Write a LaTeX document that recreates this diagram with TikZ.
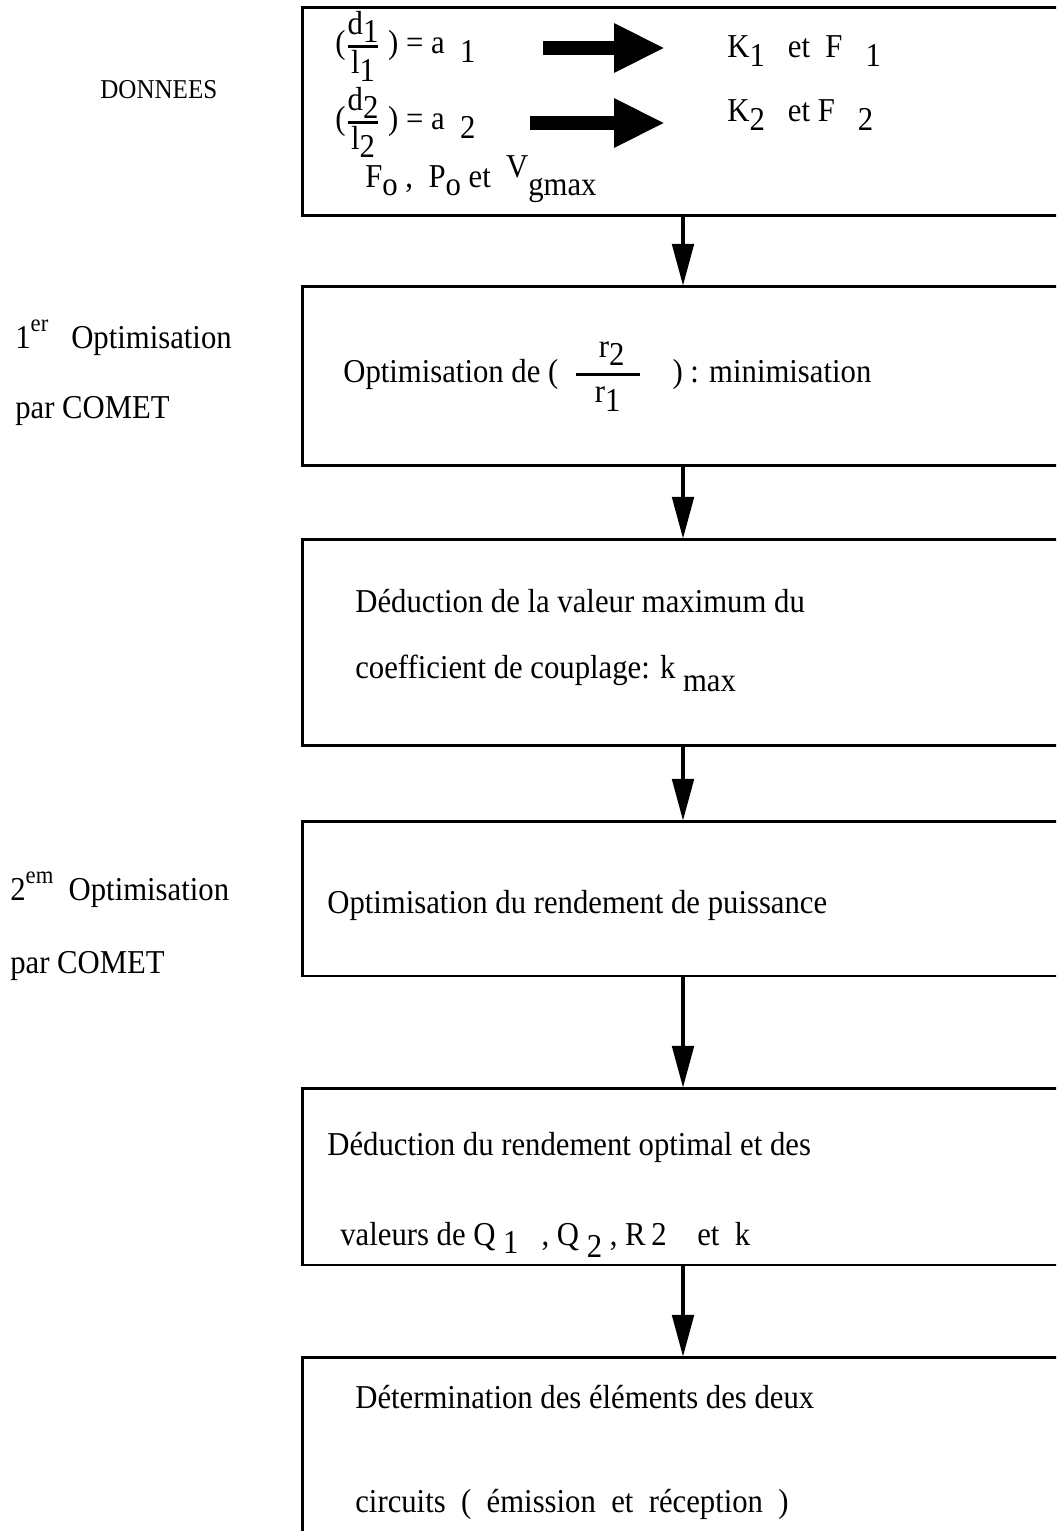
\documentclass[tikz,border=0pt]{standalone}
\usepackage{amsmath}
\usepackage{fontspec}
\setmainfont{Liberation Serif}[FakeStretch=0.92]
\usetikzlibrary{arrows.meta}

\newcommand{\dn}[1]{\raisebox{-0.55ex}{#1}}
\newcommand{\up}[1]{\raisebox{1.1ex}{\fontsize{14}{16}\selectfont #1}}
\newcommand{\fr}[2]{$\genfrac{}{}{1.4pt}{1}{\mbox{#1}}{\mbox{#2}}$}
\newcommand{\bigfr}[2]{$\genfrac{}{}{1.4pt}{0}{\mbox{#1}}{\mbox{#2}}$}

\begin{document}
\begin{tikzpicture}[x=0.02cm,y=-0.02cm,
    box/.style={draw,line width=1.7pt,minimum width=15.24cm,inner sep=0pt,outer sep=0pt},
    txt/.style={anchor=base west,inner sep=0pt,font=\fontsize{19}{23}\selectfont},
    flow/.style={-{Triangle[length=24pt,width=12pt]},line width=2.8pt},
    fat/.style={-{Triangle[length=29pt,width=26pt]},line width=8.5pt}]
    \useasboundingbox (0,0) rectangle (1056,1531);
    \clip (0,0) rectangle (1056,1531);

    \node[box,minimum height=4.18cm] (b1) at (683,111.5) {};
    \node[box,minimum height=3.6cm] (b2) at (683,376) {};
    \node[box,minimum height=4.14cm] (b3) at (683,642.5) {};
    \node[box,minimum height=3.1cm] (b4) at (683,898.5) {};
    \node[box,minimum height=3.54cm] (b5) at (683,1176.5) {};
    \node[box,minimum height=3.76cm] (b6) at (683,1451) {};

    \foreach \a/\b in {b1/b2,b2/b3,b3/b4,b4/b5,b5/b6}
        \draw[flow] (\a) -- (\b);

    \node[txt,font=\fontsize{15.5}{18}\selectfont] (don) at (100,99) {DONNEES};
    \node[txt] (eq1) at (335,54) {(\fr{d\dn{1}}{l\dn{1}}\ ) = a\ \ \dn{1}};
    \node[txt] (kf1) at (727,58) {K\dn{1}\ \ \ et\ \ F\ \ \ \dn{1}};
    \node[txt] (eq2) at (335,130) {(\fr{d\dn{2}}{l\dn{2}}\ ) = a\ \ \dn{2}};
    \node[txt] (kf2) at (727,122) {K\dn{2}\ \ \ et\ F\ \ \ \dn{2}};
    \node[txt] (data) at (365,187) {F\dn{o}\ ,\ \ P\dn{o} et\ \ \raisebox{0.6ex}{V}\dn{gmax}};
    \coordinate (a1s) at (543,48);
    \coordinate (a1e) at (665,48);
    \coordinate (a2s) at (530,123);
    \coordinate (a2e) at (665,123);
    \draw[fat] (a1s) -- (a1e);
    \draw[fat] (a2s) -- (a2e);

    \node[txt] (opt1) at (15,348) {1\up{er}\ \ \ Optimisation};
    \node[txt] (com1) at (15,418) {par COMET};
    \node[txt] (r21) at (343,382) {Optimisation de (\ \ \bigfr{\ \ \ r\dn{2}\ \ }{r\dn{1}}\ \ \ \ ) : minimisation};

    \node[txt] (ded1) at (355,612) {Déduction de la valeur maximum du};
    \node[txt] (ded2) at (355,678) {coefficient de couplage: k \raisebox{-0.9ex}{max}};

    \node[txt] (opt2) at (10,900) {2\up{em}\ \ Optimisation};
    \node[txt] (com2) at (10,973) {par COMET};
    \node[txt] (rend) at (327,913) {Optimisation du rendement de puissance};

    \node[txt] (ded3) at (327,1155) {Déduction du rendement optimal et des};
    \node[txt] (val) at (340,1245) {valeurs de Q \dn{1}\ \ \ ,\ Q \raisebox{-0.8ex}{2}\ , R\,2\ \ \ \ et\ \ k};

    \node[txt] (det1) at (355,1408) {Détermination des éléments des deux};
    \node[txt] (det2) at (355,1512) {circuits\ \ (\ \ émission\ \ et\ \ réception\ \ )};
\end{tikzpicture}
\end{document}
